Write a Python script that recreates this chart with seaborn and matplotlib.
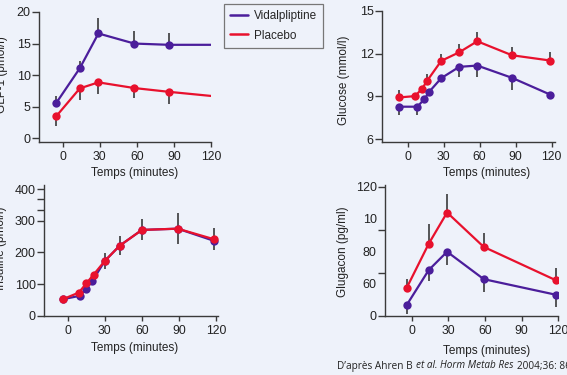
import matplotlib
matplotlib.use("Agg")
import matplotlib.pyplot as plt
from matplotlib.lines import Line2D
import numpy as np
import seaborn as sns

# GLP-1 (pmol/l)
glp_t = [-5, 14, 29, 58, 86, 120]
glp_vid = [5.6, 11.1, 16.6, 15.0, 14.8, 14.8]
glp_vid_err = [1.05, 1.2, 2.5, 2.0, 1.9]
glp_pla = [3.5, 7.9, 8.85, 7.95, 7.35, 6.7]
glp_pla_err = [1.6, 1.85, 1.9, 1.6, 2.0]

# Glucose (mmol/l)
glu_t_pla = [-7, 6, 12, 16, 28, 43, 58, 87, 119]
glu_pla = [8.93, 9.02, 9.53, 10.07, 11.49, 12.09, 12.86, 11.88, 11.51]
glu_pla_err = [0.5, 0.0, 0.0, 0.5, 0.5, 0.56, 0.67, 0.6, 0.63]
glu_t_vid = [-7, 8, 14, 18, 28, 43, 58, 87, 119]
glu_vid = [8.28, 8.28, 8.81, 9.33, 10.28, 11.07, 11.16, 10.30, 9.12]
glu_vid_err = [0.58, 0.58, 0.0, 0.0, 0.0, 0.72, 0.77, 0.88, 0.0]

# Insuline (pmol/l)
ins_t_pla = [-4, 9, 15, 21, 30, 42, 60, 89, 118]
ins_pla = [52, 73, 102, 130, 173, 221, 271, 275, 242]
ins_pla_err = [0, 0, 0, 0, 24, 30, 33, 50, 35]
ins_t_vid = [-4, 10, 15, 20, 30, 42, 60, 89, 118]
ins_vid = [52, 63, 85, 110, 173, 221, 271, 275, 237]

# Glugacon (pg/ml)
gcg_t = [-4, 14, 29, 59, 118]
gcg_pla = [26, 67, 96, 64, 33]
gcg_pla_err = [8, 18, 17.5, 13, 11]
gcg_vid = [10, 42.5, 59.5, 34, 19.5]
gcg_vid_err = [8.7, 10, 12.4, 12.4, 11.7]

x_ticks = [0, 30, 60, 90, 120]
citation = [("D’après Ahren B", "normal"), ("et al.", "italic"),
            ("Horm Metab Res", "italic"), ("2004;36: 867-872", "normal")]

sns.set_theme(style="ticks")
bg = "#eef2fa"
purple = "#4b1e9b"
red = "#e8112d"
ink = "#3a3a3a"
plt.rcParams["font.family"] = ["Liberation Sans", "DejaVu Sans"]

W, H = 567, 375
fig = plt.figure(figsize=(W / 100, H / 100), dpi=100)
fig.patch.set_facecolor(bg)


def px_axes(x0, x1, y0, y1):
    return fig.add_axes([x0 / W, 1 - y1 / H, (x1 - x0) / W, (y1 - y0) / H])


def style(ax, xlim, ylim, xlab_xy, ylab, ylab_xy):
    ax.set_facecolor(bg)
    for s in ["top", "right"]:
        ax.spines[s].set_visible(False)
    for s in ["left", "bottom"]:
        ax.spines[s].set_color(ink)
        ax.spines[s].set_linewidth(1.0)
    ax.set_xlim(*xlim)
    ax.set_ylim(*ylim)
    ax.set_xticks(x_ticks)
    ax.tick_params(axis="x", length=3.5, width=1, color=ink, pad=3,
                   labelsize=8.7, labelcolor="#222")
    ax.tick_params(axis="y", length=5, width=1, color=ink, pad=1,
                   labelsize=9, labelcolor="#222")
    ax.set_xlabel("Temps (minutes)", fontsize=8.5, color="#222", va="center")
    ax.xaxis.set_label_coords(xlab_xy[0] / W, 1 - xlab_xy[1] / H,
                              transform=fig.transFigure)
    ax.set_ylabel(ylab, fontsize=8.5, color="#222", va="center")
    ax.yaxis.set_label_coords(ylab_xy[0] / W, 1 - ylab_xy[1] / H,
                              transform=fig.transFigure)


def series(ax, t, y, color, err=None, up=True, markevery=None, sym=False):
    if err is not None:
        n = len(err)
        e = np.array(err)
        z = np.zeros(n)
        if sym:
            yerr = [e, e]
        elif up:
            yerr = [z, e]
        else:
            yerr = [e, z]
        ax.errorbar(t[:n], y[:n], yerr=yerr, fmt="none", ecolor="#2a2a2a",
                    elinewidth=1.1, capsize=0, zorder=1)
    sns.lineplot(x=t, y=y, ax=ax, color=color, linewidth=1.6, marker="o",
                 markersize=6, markeredgewidth=0, markevery=markevery,
                 zorder=3)


# GLP-1
ax1 = px_axes(39, 211, 12, 142)
series(ax1, glp_t, glp_vid, purple, glp_vid_err, up=True, markevery=list(range(5)))
series(ax1, glp_t, glp_pla, red, glp_pla_err, up=False, markevery=list(range(5)))
style(ax1, (-19, 120), (-0.6, 20), (135, 173), "GLP-1 (pmol/l)", (2.5, 75))
ax1.set_yticks([0, 5, 10, 15, 20])

# Glucose
ax2 = px_axes(382, 555, 10.7, 141.7)
series(ax2, glu_t_pla, glu_pla, red, glu_pla_err, up=True)
series(ax2, glu_t_vid, glu_vid, purple, glu_vid_err, up=False)
style(ax2, (-21.4, 122.8), (5.83, 15), (487, 173), "Glucose (mmol/l)", (344, 80))
ax2.set_yticks([6, 9, 12, 15])

# Insuline
ax3 = px_axes(44, 218, 185, 316)
series(ax3, ins_t_vid, ins_vid, purple)
series(ax3, ins_t_pla, ins_pla, red, ins_pla_err, sym=True)
style(ax3, (-19.2, 121.6), (-1, 413), (135, 348), "Insuline (pmol/l)", (1.5, 248))
ax3.set_yticks([0, 100, 200, 300, 400])
ax3.set_yticks([335, 370], minor=True)
ax3.tick_params(axis="y", which="minor", length=5, width=1, color=ink)

# Glugacon
ax4 = px_axes(385, 558.3, 185, 315.7)
series(ax4, gcg_t, gcg_pla, red, gcg_pla_err, up=True)
series(ax4, gcg_t, gcg_vid, purple, gcg_vid_err, up=False)
style(ax4, (-21.8, 120), (0, 121.6), (487, 351), "Glugacon (pg/ml)", (343, 252))
ax4.set_yticks([0, 40, 80, 120])
ax4.set_yticklabels(["0", "", "", "120"])
ax4.set_yticks([30, 60, 90], minor=True)
ax4.set_yticklabels(["60", "80", "10"], minor=True)
ax4.tick_params(axis="y", which="minor", length=0, pad=6, labelsize=9,
                labelcolor="#222")

for ax in [ax1, ax2, ax3, ax4]:
    if ax.get_legend():
        ax.get_legend().remove()

handles = [Line2D([], [], color=purple, lw=1.8), Line2D([], [], color=red, lw=1.8)]
leg = fig.legend(handles, ["Vidalpliptine", "Placebo"], loc="upper left",
                 bbox_to_anchor=(224 / W, 1 - 4 / H), fontsize=8.5,
                 frameon=True, fancybox=False, edgecolor="#777777",
                 facecolor=bg, framealpha=1, handlelength=1.5,
                 handletextpad=0.45, labelspacing=0.6, borderpad=0.55,
                 borderaxespad=0)
leg.get_frame().set_linewidth(0.9)

# citation, pieces chained so the italic parts sit inline
renderer = fig.canvas.get_renderer()
cx = 337
for txt, st in citation:
    t = fig.text(cx / W, 1 - 366 / H, txt, fontsize=7.2, family="Open Sans",
                 style=st, color="#222", va="center", ha="left")
    cx = t.get_window_extent(renderer).x1 + 3

fig.savefig("out.png", dpi=100, facecolor=bg)
